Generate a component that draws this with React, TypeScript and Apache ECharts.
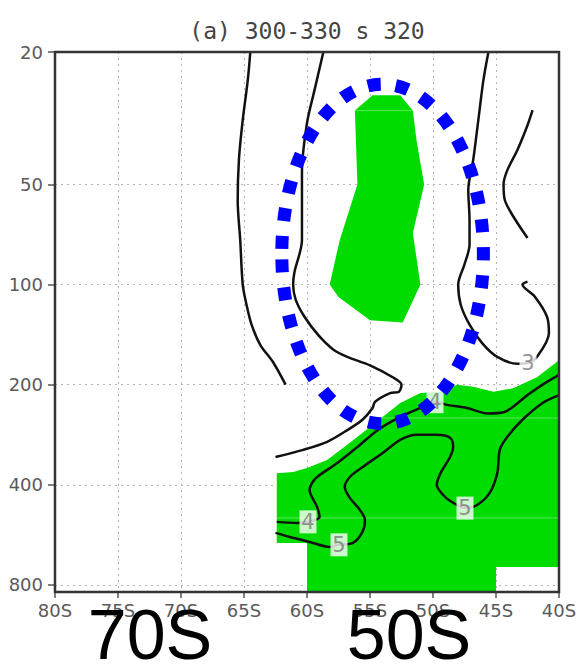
import React, { useEffect, useRef } from "react";
import * as echarts from "echarts";

// Axes: latitude (negative = south) and pressure in hPa (log scale, top = 20)
const LAT_MIN = -80;
const LAT_MAX = -40;
const LAT_STEP = 5;
const P_TOP = 20;
const P_BOTTOM = 840;
const PRESSURE_TICKS = [20, 50, 100, 200, 400, 800];

const TITLE = "(a) 300-330 s 320";
const BIG_LABELS = ["70S", "50S"];

// Shaded regions, [lat, hPa]
const shadeUpper: [number, number][] = [
  [-54.8, 27], [-52.6, 27], [-51.6, 30], [-51.3, 37], [-50.7, 50], [-51.6, 70],
  [-51.0, 100], [-52.4, 130], [-55.0, 128], [-57.5, 109], [-58.2, 100],
  [-57.4, 73.5], [-56.0, 50], [-56.2, 30],
];
const shadeLower: [number, number][] = [
  [-62.4, 369], [-61.1, 366], [-60.0, 356], [-58.4, 337], [-56.6, 299],
  [-55.0, 268], [-54.0, 250], [-52.6, 227], [-51.0, 212], [-49.4, 210],
  [-48.1, 200], [-46.8, 203], [-45.2, 210], [-43.65, 205], [-41.75, 190],
  [-40, 169], [-40, 706], [-45, 706], [-45, 840], [-60, 840], [-60, 598],
  [-62.4, 598],
];
// faint seams inside the shading
const shadeSeams: [number, number][][] = [
  [[-56.2, 30], [-51.6, 30]],
  [[-54.1, 252], [-40, 252]],
  [[-62.4, 503], [-40, 503]],
];

// Contour lines, [lat, hPa]
const contourWest: [number, number][] = [
  [-64.5, 20], [-64.7, 24.3], [-65.1, 32], [-65.4, 42], [-65.5, 56], [-65.3, 73.5],
  [-65.1, 100], [-64.8, 115], [-64.4, 132], [-63.7, 152], [-62.7, 171], [-61.7, 200],
];
const contourMid: [number, number][] = [
  [-58.7, 20], [-59.4, 26], [-60.0, 32.7], [-60.4, 46], [-60.4, 73.5], [-61.0, 92],
  [-61.1, 100], [-60.9, 111], [-60.2, 125], [-59.1, 142], [-57.9, 157], [-56.8, 165],
  [-55.0, 175], [-53.2, 190], [-52.5, 200], [-52.7, 210], [-53.4, 212], [-54.6, 225],
  [-54.8, 235], [-55.6, 255], [-56.8, 274], [-58.4, 297], [-60.3, 314], [-62.5, 330],
];
const contour3: [number, number][] = [
  [-45.6, 20], [-46.0, 24.3], [-46.4, 32], [-46.8, 42], [-47.2, 52], [-47.1, 64],
  [-47.1, 76], [-47.5, 87], [-48.0, 100], [-47.8, 115], [-47.1, 132], [-46.1, 150],
  [-44.9, 165], [-43.3, 173], [-42.46, 172], [-41.75, 165], [-40.8, 140],
  [-40.95, 125], [-41.9, 109], [-42.9, 100], [-42.5, 98],
];
const contourArc: [number, number][] = [
  [-42.1, 29.9], [-42.5, 33.2], [-43.3, 39.4], [-44.1, 45.3], [-44.4, 50],
  [-44.3, 55.7], [-43.7, 61.8], [-42.5, 72.5],
];
const contour4: [number, number][] = [
  [-40, 187], [-41.3, 200], [-42.5, 215], [-44.4, 242], [-45.7, 244], [-47.3, 235],
  [-48.9, 230], [-49.84, 225], [-50.8, 233], [-52.6, 250], [-54.4, 274], [-56.0, 308],
  [-57.6, 344], [-59.2, 379], [-59.6, 395], [-59.8, 414], [-59.2, 466], [-59.0, 500],
  [-59.92, 517], [-60.8, 521], [-62.4, 517],
];
const contour5: [number, number][] = [
  [-40, 215], [-41.3, 227], [-42.9, 255], [-44.1, 287], [-44.7, 314], [-44.9, 369],
  [-45.5, 423], [-46.5, 460], [-47.46, 470], [-48.1, 460], [-49.05, 435], [-49.7, 400],
  [-49.4, 369], [-48.65, 330], [-48.4, 308], [-48.65, 289], [-49.7, 283], [-51.3, 283],
  [-52.6, 293], [-54.0, 321], [-55.6, 354], [-56.6, 379], [-57.0, 406], [-56.6, 438],
  [-55.8, 476], [-55.4, 510], [-55.6, 554], [-56.35, 598], [-57.46, 606], [-58.2, 615],
  [-59.8, 594], [-61.35, 574], [-62.5, 558],
];

// Contour value labels
const labelLevels = [3, 4, 4, 5, 5];
const labelLats = [-42.46, -49.84, -59.92, -47.46, -57.46];
const labelPressures = [172, 225, 517, 470, 606];

// Highlighted region (dotted ellipse), its lat and pressure extents
const ringLats = [-62, -46];
const ringPressures = [25, 262];

const GREEN = "#00dc00";
const lp = (p: number) => Math.log10(p);
const toXY = (pts: [number, number][]) => pts.map(([lat, p]) => [lat, lp(p)]);

export default function App() {
  const ref = useRef<HTMLDivElement>(null);

  useEffect(() => {
    document.body.style.margin = "0";
    const chart = echarts.init(ref.current!, null, { renderer: "svg" });
    const tickFont = { fontFamily: "DejaVu Sans", fontSize: 18, color: "#5a5a5a" };
    const dotted = { show: true, lineStyle: { color: "#b5b5b5", type: [2, 4], width: 1 } };
    const shades = [shadeUpper, shadeLower];

    const contourSeries = (pts: [number, number][]) => ({
      type: "line",
      data: toXY(pts),
      smooth: 0.3,
      symbol: "none",
      showSymbol: false,
      silent: true,
      lineStyle: { color: "#111", width: 2.5 },
      z: 3,
    });

    chart.setOption({
      animation: false,
      grid: {
        left: 55, top: 52, right: 21, bottom: 75,
        show: true, z: 10, borderColor: "#333", borderWidth: 2.5,
        backgroundColor: "transparent",
      },
      xAxis: {
        type: "value", min: LAT_MIN, max: LAT_MAX, interval: LAT_STEP,
        axisLine: { show: false },
        axisTick: { show: true, length: 6, lineStyle: { color: "#555", width: 1.5 } },
        axisLabel: { ...tickFont, margin: 9, formatter: (v: number) => `${Math.abs(v)}S` },
        splitLine: dotted,
      },
      yAxis: {
        type: "value", inverse: true, min: lp(P_TOP), max: lp(P_BOTTOM),
        axisLine: { show: false },
        axisTick: {
          show: true, length: 7, customValues: PRESSURE_TICKS.map(lp),
          lineStyle: { color: "#555", width: 1.5 },
        },
        axisLabel: {
          ...tickFont, margin: 12, customValues: PRESSURE_TICKS.map(lp),
          formatter: (v: number) => String(Math.round(Math.pow(10, v))),
        },
        splitLine: dotted,
      },
      series: [
        {
          type: "custom",
          silent: true,
          z: 1,
          data: shades.map((poly, i) => [poly[0][0], lp(poly[0][1]), i]),
          renderItem: (params: any, api: any) => {
            const poly = shades[params.dataIndex];
            return {
              type: "polygon",
              shape: { points: poly.map(([lat, p]) => api.coord([lat, lp(p)])) },
              style: { fill: GREEN },
            };
          },
        },
        ...shadeSeams.map((seam) => ({
          type: "line",
          data: toXY(seam),
          symbol: "none",
          silent: true,
          lineStyle: { color: "rgba(255,255,255,0.35)", width: 1 },
          z: 2,
        })),
        contourSeries(contourWest),
        contourSeries(contourMid),
        contourSeries(contour3),
        contourSeries(contourArc),
        contourSeries(contour4),
        contourSeries(contour5),
        {
          type: "scatter",
          silent: true,
          z: 4,
          data: labelLevels.map((lvl, i) => [labelLats[i], lp(labelPressures[i]), lvl]),
          symbol: "rect",
          symbolSize: [17, 23],
          itemStyle: { color: "#fff" },
          label: {
            show: true, position: "inside",
            formatter: (p: any) => String(p.value[2]),
            fontFamily: "DejaVu Sans", fontSize: 21, color: "#777",
          },
        },
      ],
    });

    // Dotted ellipse and overlay texts, placed through the grid's coordinate system
    const px = (lat: number, p: number) =>
      chart.convertToPixel({ gridIndex: 0 }, [lat, lp(p)]) as number[];
    const a = px(ringLats[0], ringPressures[0]);
    const b = px(ringLats[1], ringPressures[1]);
    const topLeft = px(LAT_MIN, P_TOP);
    const topRight = px(LAT_MAX, P_TOP);

    chart.setOption({
      graphic: [
        {
          type: "ellipse",
          z: 20,
          silent: true,
          shape: {
            cx: (a[0] + b[0]) / 2, cy: (a[1] + b[1]) / 2,
            rx: Math.abs(b[0] - a[0]) / 2, ry: Math.abs(b[1] - a[1]) / 2,
          },
          style: {
            fill: "none", stroke: "#0000ff", lineWidth: 13,
            lineDash: [13, 15], lineDashOffset: 23,
          },
        },
        {
          type: "text",
          z: 20,
          x: (topLeft[0] + topRight[0]) / 2,
          y: 31,
          style: {
            text: TITLE, align: "center", verticalAlign: "middle",
            font: "23px 'DejaVu Sans Mono'", fill: "#444",
          },
        },
        ...BIG_LABELS.map((t, i) => ({
          type: "text",
          z: 30,
          x: i === 0 ? 150 : 409,
          y: 635,
          style: {
            text: t, align: "center", verticalAlign: "middle",
            font: "70px 'Liberation Sans'", fill: "#000",
          },
        })),
      ],
    });

    return () => chart.dispose();
  }, []);

  return <div ref={ref} style={{ width: 580, height: 667 }} />;
}
